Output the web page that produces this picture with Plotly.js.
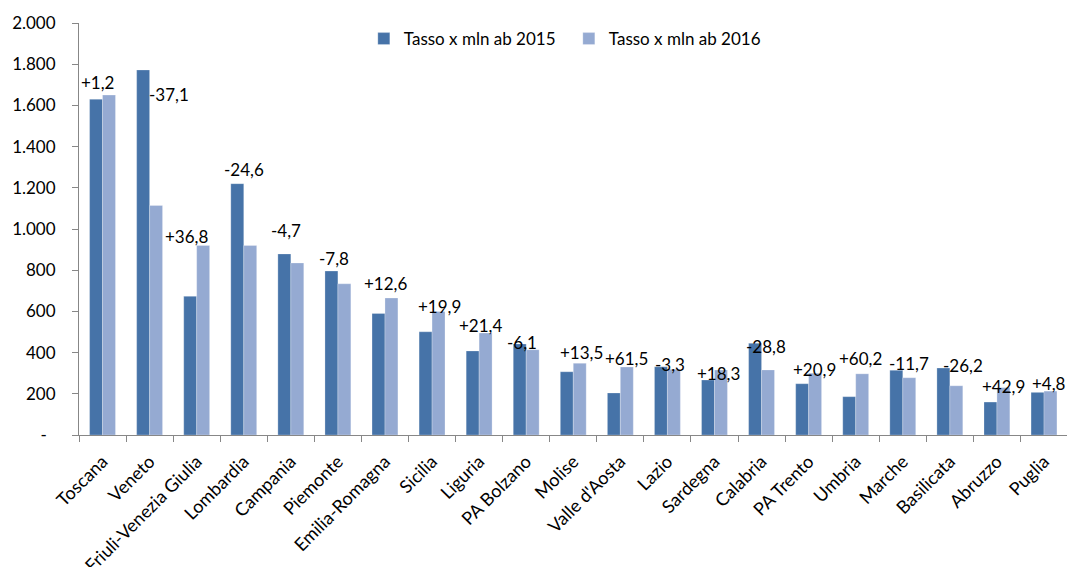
<!DOCTYPE html>
<html>
<head>
<meta charset="utf-8">
<script src="https://cdn.plot.ly/plotly-3.0.1.min.js"></script>
<style>
html,body{margin:0;padding:0;overflow:hidden;background:#fff;}
#chart{width:1070px;height:567px;}
</style>
</head>
<body>
<div id="chart"></div>
<script>
// ---- data ----
const regions = ["Toscana","Veneto","Friuli-Venezia Giulia","Lombardia","Campania","Piemonte","Emilia-Romagna","Sicilia","Liguria","PA Bolzano","Molise","Valle d'Aosta","Lazio","Sardegna","Calabria","PA Trento","Umbria","Marche","Basilicata","Abruzzo","Puglia"];
const rate2015 = [1630,1772,673,1220,879,796,590,501,408,442,307,204,331,267,445,249,186,314,325,160,207];
const rate2016 = [1650,1114,920,920,835,734,665,600,495,414,348,330,319,315,316,300,297,278,239,230,213];
const changeLabels = ["+1,2","-37,1","+36,8","-24,6","-4,7","-7,8","+12,6","+19,9","+21,4","-6,1","+13,5","+61,5","-3,3","+18,3","-28,8","+20,9","+60,2","-11,7","-26,2","+42,9","+4,8"];
const seriesNames = ["Tasso x mln ab 2015","Tasso x mln ab 2016"];
const yTickVals = [0,200,400,600,800,1000,1200,1400,1600,1800,2000];
const yTickText = ["-\u00a0\u00a0","200","400","600","800","1.000","1.200","1.400","1.600","1.800","2.000"];

// ---- label placement offsets (px) ----
const labelDx = [-5,19,-10,0,-5,-4,1,7,1,-4,8,6,3,4,4,6,5,6,13,7,5];
const labelDy = [13,-25,9,14,23,13,15,5,8,1,11,9,2,-3,-3,4,15,7,3,1,8];

const FONT = "Lato, 'Liberation Sans', sans-serif";
const FS = 17;
const c1 = "#4673A8", c2 = "#95AAD2";

const traces = [
  {type:"bar", name:seriesNames[0], x:regions, y:rate2015,
   marker:{color:c1, line:{color:"rgba(255,255,255,0.5)", width:0.5}}, hoverinfo:"x+y"},
  {type:"bar", name:seriesNames[1], x:regions, y:rate2016,
   marker:{color:c2, line:{color:"rgba(255,255,255,0.5)", width:0.5}}, hoverinfo:"x+y"}
];

const annotations = regions.map((r,i)=>({
  x:r, y:Math.max(rate2015[i],rate2016[i]), xref:"x", yref:"y",
  text:changeLabels[i], showarrow:false, xanchor:"center", yanchor:"middle",
  xshift:labelDx[i], yshift:labelDy[i],
  font:{family:FONT, size:FS, color:"#000"}
}));

const layout = {
  width:1070, height:567,
  margin:{l:79, r:2, t:23, b:132, pad:0, autoexpand:false},
  paper_bgcolor:"#fff", plot_bgcolor:"#fff",
  font:{family:FONT, size:FS, color:"#000"},
  barmode:"group", bargap:0.45, bargroupgap:0,
  showlegend:true,
  legend:{orientation:"h", xref:"paper", yref:"paper", x:0.288, y:0.961, xanchor:"left", yanchor:"middle",
          font:{family:FONT, size:FS, color:"#000"}, entrywidth:160, entrywidthmode:"pixels",
          bgcolor:"rgba(0,0,0,0)", traceorder:"normal"},
  xaxis:{type:"category", showgrid:false, zeroline:false, showline:true, linecolor:"#878787", linewidth:1,
         ticks:"outside", tickson:"boundaries", ticklen:6, tickcolor:"#878787", tickangle:-45,
         ticklabelstandoff:8, automargin:false,
         tickfont:{family:FONT, size:18, color:"#000"}, fixedrange:true},
  yaxis:{range:[0,2000], showgrid:false, zeroline:false, showline:true, linecolor:"#878787", linewidth:1,
         ticks:"outside", ticklen:6, tickcolor:"#878787", tickvals:yTickVals, ticktext:yTickText,
         ticklabelstandoff:13, automargin:false, tickfont:{family:FONT, size:FS, color:"#000"}, fixedrange:true},
  annotations:annotations
};

Plotly.newPlot("chart", traces, layout, {displayModeBar:false, staticPlot:true});
</script>
</body>
</html>
